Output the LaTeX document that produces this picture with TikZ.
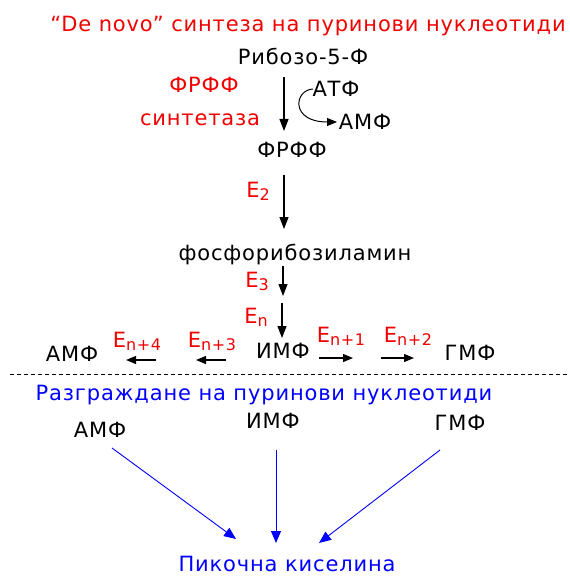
\documentclass[tikz,border=0pt]{standalone}
\usepackage{fontspec}
\setmainfont[LetterSpace=4]{DejaVu Sans}
\usetikzlibrary{arrows.meta}
\definecolor{tred}{RGB}{240,0,0}
\definecolor{tblue}{RGB}{0,0,255}
\newcommand{\subs}[1]{\raisebox{-3.5pt}{\fontsize{16}{16}\selectfont #1}}
\begin{document}
\begin{tikzpicture}[x=1pt,y=-1pt,
  lbl/.style={anchor=base,inner sep=0pt,font=\fontsize{21}{24}\selectfont},
  red/.style={lbl,text=tred},
  blu/.style={lbl,text=tblue},
  arr/.style={line width=1.2pt,-{Triangle[length=12pt,width=9pt]}},
  harr/.style={line width=1.2pt,-{Triangle[length=10pt,width=8pt]}},
  barr/.style={line width=0.9pt,tblue,-{Triangle[length=12pt,width=10pt]}}]
\useasboundingbox (0,0) rectangle (569,577);
% synthesis
\node[red] (title) at (308,32) {“De novo” синтеза на пуринови нуклеотиди};
\node[lbl] (rib) at (303,65) {Рибозо-5-Ф};
\node[red] (enz1) at (204,93) {ФРФФ};
\node[red] (enz1b) at (200,126) {синтетаза};
\node[lbl] (atf) at (336,97) {АТФ};
\node[lbl] (amf1) at (365,130) {АМФ};
\node[lbl] (frff) at (292,158) {ФРФФ};
\node[red] (e2) at (258,197) {E\subs{2}};
\node[lbl] (fos) at (295,260) {фосфорибозиламин};
\node[red] (e3) at (257,287) {E\subs{3}};
\node[red] (en) at (256,323) {E\subs{n}};
\node[lbl] (amf) at (72,361) {АМФ};
\node[lbl] (imf) at (283,358) {ИМФ};
\node[lbl] (gmf) at (470,360) {ГМФ};
\node[red] (en4) at (137,347) {E\subs{n+4}};
\node[red] (en3) at (212,347) {E\subs{n+3}};
\node[red] (en1) at (341,342) {E\subs{n+1}};
\node[red] (en2) at (408,342) {E\subs{n+2}};
% arrow endpoints
\coordinate (a1s) at (284,77);  \coordinate (a1e) at (284,131);
\coordinate (c1s) at (313,89);  \coordinate (c1e) at (337,122);
\coordinate (a2s) at (284,175); \coordinate (a2e) at (284,229);
\coordinate (a3s) at (283,266); \coordinate (a3e) at (283,296);
\coordinate (a4s) at (282,303); \coordinate (a4e) at (282,338);
\coordinate (h4s) at (156,360); \coordinate (h4e) at (126,360);
\coordinate (h3s) at (226,360); \coordinate (h3e) at (196,360);
\coordinate (h1s) at (319,358); \coordinate (h1e) at (353,358);
\coordinate (h2s) at (381,358); \coordinate (h2e) at (414,358);
\draw[arr] (a1s) -- (a1e);
\draw[line width=1pt,-{Triangle[length=10pt,width=8pt]}] (c1s) .. controls (294,90) and (290,122) .. (c1e);
\draw[arr] (a2s) -- (a2e);
\draw[arr] (a3s) -- (a3e);
\draw[arr] (a4s) -- (a4e);
\draw[harr] (h4s) -- (h4e);
\draw[harr] (h3s) -- (h3e);
\draw[harr] (h1s) -- (h1e);
\draw[harr] (h2s) -- (h2e);
% separator
\coordinate (d1) at (10,374); \coordinate (d2) at (569,374);
\draw[line width=1pt,dash pattern=on 4pt off 3pt] (d1) -- (d2);
% degradation
\node[blu] (deg) at (264,400) {Разграждане на пуринови нуклеотиди};
\node[lbl] (bamf) at (100,437) {АМФ};
\node[lbl] (bimf) at (273,428) {ИМФ};
\node[lbl] (bgmf) at (460,430) {ГМФ};
\node[blu] (pik) at (287,571) {Пикочна киселина};
\coordinate (b1s) at (112,448); \coordinate (b1e) at (236,539);
\coordinate (b2s) at (276,450); \coordinate (b2e) at (276,543);
\coordinate (b3s) at (440,450); \coordinate (b3e) at (319,543);
\draw[barr] (b1s) -- (b1e);
\draw[barr] (b2s) -- (b2e);
\draw[barr] (b3s) -- (b3e);
\end{tikzpicture}
\end{document}
